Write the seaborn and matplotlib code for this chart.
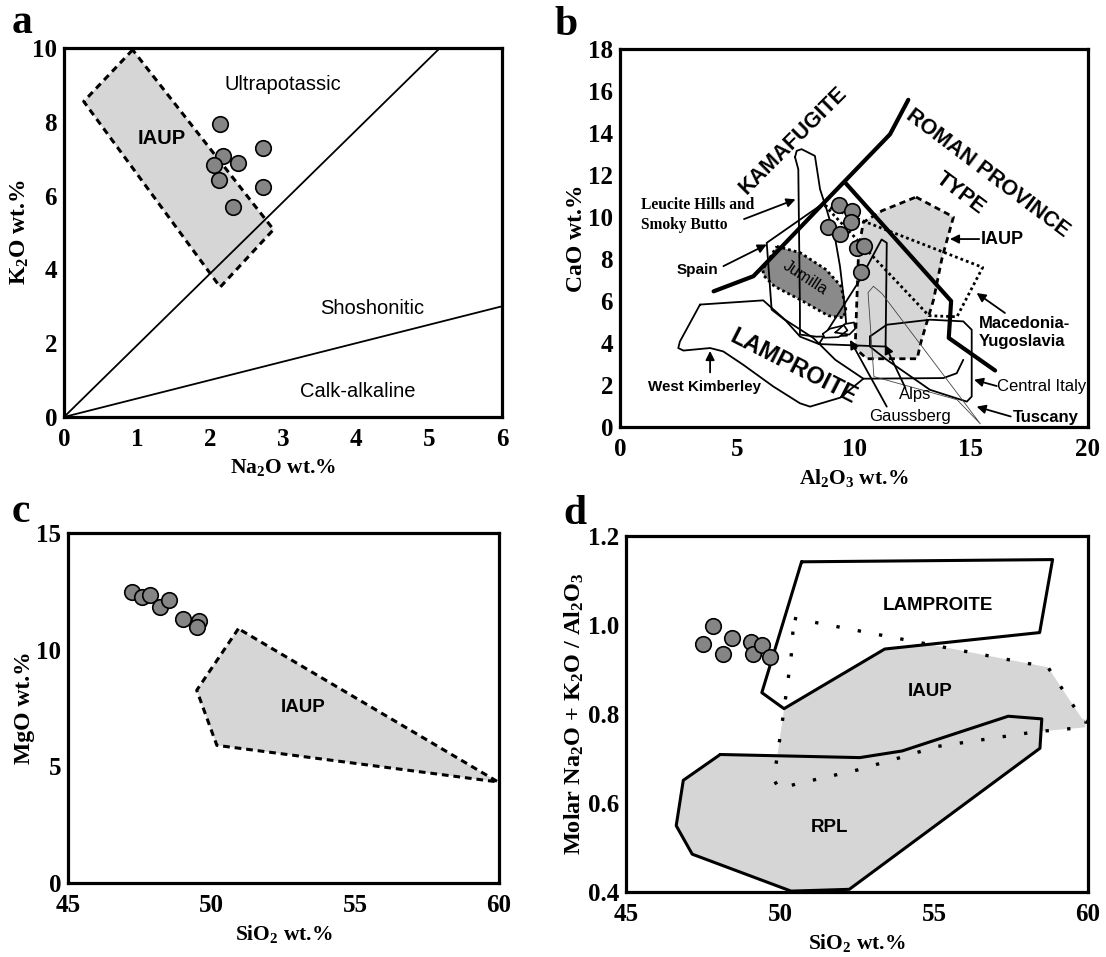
import matplotlib
matplotlib.use('Agg')
import numpy as np
import pandas as pd
from matplotlib import pyplot as plt
import seaborn as sns

sns.set_theme(style='white')
plt.rcParams['font.family'] = ['Liberation Sans', 'DejaVu Sans']
plt.rcParams['mathtext.fontset'] = 'custom'
plt.rcParams['mathtext.rm'] = 'Liberation Serif:bold'
plt.rcParams['mathtext.it'] = 'Liberation Serif:bold'
plt.rcParams['mathtext.bf'] = 'Liberation Serif:bold'
for k in ['text.color', 'axes.labelcolor', 'xtick.color', 'ytick.color', 'axes.edgecolor']:
    plt.rcParams[k] = 'black'

# ---- panel a: K2O vs Na2O
a_na2o = [2.14, 2.18, 2.05, 2.38, 2.13, 2.32, 2.72, 2.73]
a_k2o = [7.94, 7.08, 6.82, 6.87, 6.41, 5.68, 7.28, 6.22]
a_iaup_x = [0.94, 0.27, 2.14, 2.87]
a_iaup_y = [9.95, 8.55, 3.52, 5.08]
a_ultra_x, a_ultra_y = [0, 5.15], [0, 10]
a_shosh_x, a_shosh_y = [0, 6], [0, 3]

# ---- panel b: CaO vs Al2O3
b_al2o3 = [9.36, 9.90, 9.86, 8.88, 9.40, 10.12, 10.43, 10.30]
b_cao = [10.55, 10.28, 9.76, 9.52, 9.20, 8.53, 8.61, 7.39]
b_kama_x = [4.0, 5.7, 6.05, 8.69, 11.54, 12.32]
b_kama_y = [6.46, 7.18, 7.58, 10.65, 13.94, 15.58]
b_roman_x = [9.62, 14.15, 14.05, 16.03]
b_roman_y = [11.64, 6.0, 4.24, 2.69]
b_iaup_x = [12.65, 14.25, 13.9, 13.75, 13.4, 12.85, 12.7, 10.55, 10.05, 10.2, 10.4, 11.2]
b_iaup_y = [10.95, 10.0, 8.6, 7.98, 6.06, 4.0, 3.25, 3.25, 3.75, 8.5, 9.75, 10.3]
b_jum_x = [6.7, 7.7, 8.8, 9.45, 9.65, 9.55, 8.9, 7.8, 6.6, 6.15, 6.1]
b_jum_y = [8.6, 8.3, 7.5, 6.7, 5.6, 5.2, 5.3, 6.0, 6.7, 7.2, 7.5]
b_mac_x = [8.75, 10.3, 15.5, 14.4, 13.2]
b_mac_y = [10.55, 9.85, 7.6, 5.25, 5.3]
b_leuc_x = [7.48, 7.55, 7.76, 8.33, 8.55, 8.83, 9.19, 9.4, 9.62, 9.7, 8.4, 7.69, 7.69, 7.62]
b_leuc_y = [12.85, 13.15, 13.23, 12.91, 11.32, 10.36, 9.0, 7.66, 5.6, 4.35, 4.3, 4.4, 5.6, 12.27]
b_spain_x = [8.69, 6.27, 6.48, 7.08, 7.7, 8.5]
b_spain_y = [10.65, 8.77, 5.59, 5.07, 4.3, 3.95]
b_alps_x = [8.5, 10.26, 11.18, 11.4, 11.35, 8.5]
b_alps_y = [3.95, 7.02, 8.93, 8.77, 3.83, 3.95]
b_lamp_x = [3.42, 6.12, 7.05, 8.26, 9.2, 10.4, 9.42, 8.12, 7.69, 6.55, 5.27, 4.41, 3.85, 2.71, 2.49, 2.56]
b_lamp_y = [5.83, 6.03, 5.11, 4.24, 3.2, 2.3, 1.4, 0.97, 1.13, 1.93, 2.96, 3.6, 3.76, 3.64, 3.76, 4.07]
b_lamp_tail_x = [10.4, 13.82, 14.39, 14.67]
b_lamp_tail_y = [2.3, 2.33, 2.56, 3.2]
b_ital_x = [10.68, 11.4, 13.25, 14.67, 15.03, 15.03, 14.82, 13.25, 11.4, 10.68]
b_ital_y = [4.31, 4.87, 5.11, 5.03, 4.63, 1.45, 1.21, 1.77, 3.2, 3.83]
b_tusc_x = [10.83, 11.2, 15.4, 14.4, 10.85, 10.6]
b_tusc_y = [6.7, 6.35, 0.15, 1.3, 2.4, 6.4]
b_gauss1_x = [8.67, 8.97, 9.57, 9.72, 9.34, 8.74]
b_gauss1_y = [4.44, 4.68, 4.84, 4.6, 4.28, 4.25]
b_gauss2_x = [9.2, 9.6, 10.0, 10.05, 9.8]
b_gauss2_y = [4.5, 4.9, 4.98, 4.68, 4.4]

# ---- panel c: MgO vs SiO2
c_sio2 = [47.22, 47.57, 47.84, 48.19, 48.53, 49.0, 49.56, 49.48]
c_mgo = [12.47, 12.26, 12.33, 11.83, 12.11, 11.33, 11.21, 10.97]
c_iaup_x = [50.93, 49.48, 50.18, 59.97]
c_iaup_y = [10.9, 8.26, 5.9, 4.33]

# ---- panel d: molar alkali / Al2O3 vs SiO2
d_sio2 = [47.81, 47.51, 48.14, 48.44, 49.06, 49.12, 49.41, 49.69]
d_ratio = [0.998, 0.957, 0.934, 0.970, 0.962, 0.934, 0.955, 0.928]
d_lamp_x = [50.70, 58.85, 58.43, 53.40, 50.13, 49.41]
d_lamp_y = [1.142, 1.147, 0.983, 0.946, 0.812, 0.848]
d_iaup_x = [50.45, 58.7, 59.8, 59.95, 59.9, 58.3, 55.1, 53.8, 52.5, 50.6, 49.96, 49.79, 49.9, 50.09, 50.36]
d_iaup_y = [1.015, 0.905, 0.79, 0.785, 0.77, 0.76, 0.727, 0.70, 0.674, 0.644, 0.632, 0.655, 0.70, 0.79, 0.927]
d_rpl_x = [48.06, 52.59, 53.97, 57.41, 58.50, 58.44, 52.25, 50.36, 47.15, 46.63, 46.86]
d_rpl_y = [0.709, 0.702, 0.717, 0.795, 0.789, 0.723, 0.406, 0.402, 0.485, 0.549, 0.651]

LIGHT = '#d6d6d6'
DARK = '#8a8a8a'
PT = '#858585'
SERIF = 'Liberation Serif'


def closed(xs, ys):
    return list(xs) + [xs[0]], list(ys) + [ys[0]]


def path(ax, xs, ys, lw=1.3, ls='-', color='black', z=3):
    df = pd.DataFrame({'x': xs, 'y': ys})
    sns.lineplot(data=df, x='x', y='y', sort=False, estimator=None, ax=ax,
                 color=color, lw=lw, linestyle=ls, zorder=z, legend=False)


def region(ax, xs, ys, face, lw=1.3, ls='-', z=2, edge_z=None):
    cx, cy = closed(xs, ys)
    ax.fill(cx, cy, color=face, lw=0, zorder=z)
    path(ax, cx, cy, lw=lw, ls=ls, z=edge_z if edge_z else z + 0.1)


def points(ax, xs, ys):
    df = pd.DataFrame({'x': xs, 'y': ys})
    sns.scatterplot(data=df, x='x', y='y', ax=ax, s=125, color=PT,
                    edgecolor='black', linewidth=1.2, zorder=10, legend=False)


def arrow(ax, x0, y0, x1, y1):
    ax.annotate('', xy=(x1, y1), xytext=(x0, y0),
                arrowprops=dict(arrowstyle='-|>', color='black', lw=1.3,
                                mutation_scale=13, shrinkA=0, shrinkB=0), zorder=12)


def style(ax, xlim, ylim, xt, yt, xl, yl, ylabels=None, ysize=17):
    ax.set_xlim(*xlim)
    ax.set_ylim(*ylim)
    ax.set_xticks(xt)
    ax.set_yticks(yt)
    if ylabels:
        ax.set_yticklabels(ylabels)
    ax.tick_params(direction='in', length=7, width=1.6)
    ax.tick_params(axis='x', pad=8)
    ax.tick_params(axis='y', pad=5)
    for lab in ax.get_xticklabels() + ax.get_yticklabels():
        lab.set_fontfamily(SERIF)
        lab.set_fontweight('bold')
        lab.set_fontsize(18)
    ax.set_xlabel(xl, fontfamily=SERIF, fontweight='bold', fontsize=15.5, labelpad=4)
    ax.set_ylabel(yl, fontfamily=SERIF, fontweight='bold', fontsize=ysize, labelpad=1)
    for sp in ax.spines.values():
        sp.set_linewidth(2.3)
        sp.set_color('black')
        sp.set_zorder(20)


fig = plt.figure(figsize=(11.06, 9.57), dpi=100)
W, H = 1106, 957


def axes_px(l, t, r, b):
    return fig.add_axes([l / W, 1 - b / H, (r - l) / W, (b - t) / H])


ax_a = axes_px(64, 48, 502, 417)
ax_b = axes_px(620, 49, 1088, 427)
ax_c = axes_px(68, 533, 499, 883)
ax_d = axes_px(626, 536, 1088, 892)

# ---- a
region(ax_a, a_iaup_x, a_iaup_y, LIGHT, lw=2.2, ls=(0, (2.2, 1.6)))
path(ax_a, a_ultra_x, a_ultra_y, lw=1.3, z=4)
path(ax_a, a_shosh_x, a_shosh_y, lw=1.3, z=4)
points(ax_a, a_na2o, a_k2o)
ax_a.text(3.0, 9.0, 'Ultrapotassic', fontsize=14.5, ha='center', va='center')
ax_a.text(4.22, 2.93, 'Shoshonitic', fontsize=14.5, ha='center', va='center')
ax_a.text(4.02, 0.70, 'Calk-alkaline', fontsize=14.5, ha='center', va='center')
ax_a.text(1.34, 7.56, 'IAUP', fontsize=14.5, fontweight='bold', ha='center', va='center')
style(ax_a, (0, 6), (0, 10), range(0, 7), range(0, 11, 2),
      'Na$_2$O wt.%', 'K$_2$O wt.%')

# ---- b
region(ax_b, b_iaup_x, b_iaup_y, LIGHT, lw=2.0, ls=(0, (2.2, 1.6)), z=1)
region(ax_b, b_jum_x, b_jum_y, DARK, lw=2.0, ls=(0, (1, 1.1)), z=2)
cx, cy = closed(b_mac_x, b_mac_y)
path(ax_b, cx, cy, lw=2.0, ls=(0, (1, 1.1)), z=3)
cx, cy = closed(b_leuc_x, b_leuc_y)
path(ax_b, cx, cy, lw=1.3)
path(ax_b, b_spain_x, b_spain_y, lw=1.3)
path(ax_b, b_alps_x, b_alps_y, lw=1.3)
cx, cy = closed(b_lamp_x, b_lamp_y)
path(ax_b, cx, cy, lw=1.3)
path(ax_b, b_lamp_tail_x, b_lamp_tail_y, lw=1.3)
cx, cy = closed(b_ital_x, b_ital_y)
path(ax_b, cx, cy, lw=1.3)
cx, cy = closed(b_tusc_x, b_tusc_y)
path(ax_b, cx, cy, lw=0.6, color='#444444')
region(ax_b, b_gauss1_x, b_gauss1_y, 'white', lw=1.2, z=5)
region(ax_b, b_gauss2_x, b_gauss2_y, 'white', lw=1.2, z=5)
path(ax_b, b_kama_x, b_kama_y, lw=3.0, z=6)
path(ax_b, b_roman_x, b_roman_y, lw=3.0, z=6)
points(ax_b, b_al2o3, b_cao)

ax_b.text(7.41, 13.62, 'KAMAFUGITE', fontsize=15.5, fontweight='bold', rotation=45,
          ha='center', va='center', rotation_mode='anchor')
ax_b.text(15.7, 12.1, 'ROMAN PROVINCE', fontsize=15.5, fontweight='bold', rotation=-37,
          ha='center', va='center', rotation_mode='anchor')
ax_b.text(14.54, 11.14, 'TYPE', fontsize=15.5, fontweight='bold', rotation=-37,
          ha='center', va='center', rotation_mode='anchor')
ax_b.text(7.42, 2.88, 'LAMPROITE', fontsize=17, fontweight='bold', rotation=-27,
          ha='center', va='center', rotation_mode='anchor')
ax_b.text(7.91, 7.1, 'Jumilla', fontsize=11.5, rotation=-33,
          ha='center', va='center', rotation_mode='anchor', zorder=8)
ax_b.text(0.9, 10.1, 'Leucite Hills and\nSmoky Butto', fontfamily=SERIF, fontsize=11.2,
          fontweight='bold', ha='left', va='center', linespacing=1.3)
arrow(ax_b, 5.3, 9.9, 7.5, 10.84)
ax_b.text(3.3, 7.5, 'Spain', fontsize=11, fontweight='bold', ha='center', va='center')
arrow(ax_b, 4.42, 7.66, 6.27, 8.69)
ax_b.text(3.63, 1.92, 'West Kimberley', fontsize=10.9, fontweight='bold', ha='center', va='center')
arrow(ax_b, 3.85, 2.6, 3.85, 3.62)
ax_b.text(15.35, 4.5, 'Macedonia-\nYugoslavia', fontsize=12, fontweight='bold',
          ha='left', va='center', linespacing=1.2)
arrow(ax_b, 16.45, 5.43, 15.24, 6.38)
ax_b.text(16.1, 1.93, 'Central Italy', fontsize=12, ha='left', va='center')
arrow(ax_b, 16.1, 1.95, 15.13, 2.25)
ax_b.text(16.81, 0.45, 'Tuscany', fontsize=12, fontweight='bold', ha='left', va='center')
arrow(ax_b, 16.7, 0.5, 15.24, 0.97)
ax_b.text(12.61, 1.53, 'Alps', fontsize=12, ha='center', va='center')
arrow(ax_b, 12.2, 1.85, 11.32, 3.92)
ax_b.text(12.39, 0.49, 'Gaussberg', fontsize=12, ha='center', va='center')
arrow(ax_b, 11.4, 0.97, 9.83, 4.15)
ax_b.text(15.4, 8.95, 'IAUP', fontsize=13, fontweight='bold', ha='left', va='center')
arrow(ax_b, 15.35, 8.95, 14.1, 8.95)
style(ax_b, (0, 20), (0, 18), range(0, 21, 5), range(0, 19, 2),
      'Al$_2$O$_3$ wt.%', 'CaO wt.%')

# ---- c
region(ax_c, c_iaup_x, c_iaup_y, LIGHT, lw=2.2, ls=(0, (2.2, 1.6)))
points(ax_c, c_sio2, c_mgo)
ax_c.text(53.19, 7.54, 'IAUP', fontsize=13.5, fontweight='bold', ha='center', va='center')
style(ax_c, (45, 60), (0, 15), [45, 50, 55, 60], [0, 5, 10, 15],
      'SiO$_2$ wt.%', 'MgO wt.%')

# ---- d
region(ax_d, d_rpl_x, d_rpl_y, LIGHT, lw=2.2, z=2)
ix, iy = closed(d_iaup_x, d_iaup_y)
ax_d.fill(ix, iy, color=LIGHT, lw=0, zorder=1)
lx, ly = closed(d_lamp_x, d_lamp_y)
ax_d.fill(lx, ly, color='white', lw=0, zorder=3)
path(ax_d, ix, iy, lw=2.4, ls=(0, (1, 5.5)), z=4)
path(ax_d, lx, ly, lw=2.2, z=5)
points(ax_d, d_sio2, d_ratio)
ax_d.text(55.12, 1.044, 'LAMPROITE', fontsize=13.5, fontweight='bold', ha='center', va='center', zorder=6)
ax_d.text(54.89, 0.851, 'IAUP', fontsize=13.5, fontweight='bold', ha='center', va='center', zorder=6)
ax_d.text(51.62, 0.546, 'RPL', fontsize=13.5, fontweight='bold', ha='center', va='center', zorder=6)
style(ax_d, (45, 60), (0.4, 1.2), [45, 50, 55, 60], [0.4, 0.6, 0.8, 1.0, 1.2],
      'SiO$_2$ wt.%', 'Molar Na$_2$O + K$_2$O / Al$_2$O$_3$',
      ylabels=['0.4', '0.6', '0.8', '1.0', '1.2'], ysize=17.5)

for letter, x, y in [('a', 12, 33), ('b', 554, 35), ('c', 12, 522), ('d', 563, 524)]:
    fig.text(x / W, 1 - y / H, letter, fontfamily=SERIF, fontweight='bold',
             fontsize=30, va='baseline', ha='left')

fig.savefig('out.png', dpi=100)
